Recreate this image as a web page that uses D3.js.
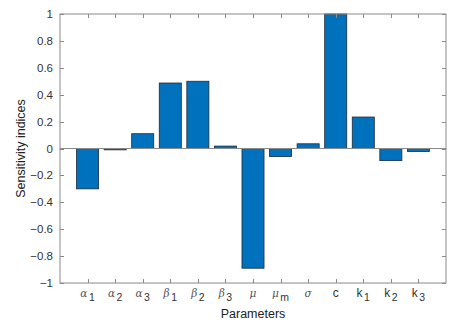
<!DOCTYPE html>
<html><head><meta charset="utf-8">
<script src="https://cdn.jsdelivr.net/npm/d3@7"></script>
<style>body{margin:0;background:#fff}svg{display:block}text{font-family:"Liberation Sans",Arial,sans-serif}</style>
</head><body><svg id="c" width="463" height="322"></svg>
<script>
const categories = [
  {base:"α", sub:"1", greek:true}, {base:"α", sub:"2", greek:true}, {base:"α", sub:"3", greek:true},
  {base:"β", sub:"1", greek:true}, {base:"β", sub:"2", greek:true}, {base:"β", sub:"3", greek:true},
  {base:"μ", sub:"", greek:true}, {base:"μ", sub:"m", greek:true}, {base:"σ", sub:"", greek:true},
  {base:"c", sub:"", greek:false}, {base:"k", sub:"1", greek:false}, {base:"k", sub:"2", greek:false}, {base:"k", sub:"3", greek:false}
];
const values = [-0.30, -0.01, 0.11, 0.487, 0.50, 0.018, -0.89, -0.06, 0.035, 1.0, 0.234, -0.09, -0.022];
const yTicks = [-1, -0.8, -0.6, -0.4, -0.2, 0, 0.2, 0.4, 0.6, 0.8, 1];
const yLabel = "Sensitivity indices";
const xLabel = "Parameters";

const svg = d3.select("#c");
const L = 60, R = 446, T = 14, B = 283;
const x = d3.scaleLinear().domain([0, categories.length + 1]).range([L, R]);
const y = d3.scaleLinear().domain([-1, 1]).range([B, T]);
const step = x(1) - x(0);
const bw = step * 0.8;
const axisCol = "#8a8a8a", textCol = "#333";

// bars
svg.append("g").selectAll("rect").data(values).join("rect")
  .attr("x", (d, i) => x(i + 1) - bw / 2)
  .attr("y", d => y(Math.max(0, d)))
  .attr("width", bw)
  .attr("height", d => Math.abs(y(d) - y(0)))
  .attr("fill", "#0072BD").attr("stroke", "#1b2a3a").attr("stroke-width", 0.8);

// zero baseline
svg.append("line").attr("x1", L).attr("x2", R).attr("y1", y(0)).attr("y2", y(0))
  .attr("stroke", axisCol).attr("stroke-width", 1);

// box
svg.append("rect").attr("x", L).attr("y", T).attr("width", R - L).attr("height", B - T)
  .attr("fill", "none").attr("stroke", axisCol).attr("stroke-width", 1);

// y ticks (inward both sides)
const gy = svg.append("g");
yTicks.forEach(t => {
  const yy = Math.round(y(t)) + 0.5;
  gy.append("line").attr("x1", L).attr("x2", L + 4).attr("y1", yy).attr("y2", yy).attr("stroke", axisCol);
  gy.append("line").attr("x1", R - 4).attr("x2", R).attr("y1", yy).attr("y2", yy).attr("stroke", axisCol);
  gy.append("text").attr("x", L - 7).attr("y", y(t)).attr("dy", "0.35em").attr("text-anchor", "end")
    .attr("font-size", 11.5).attr("fill", textCol).text(d3.format("")(t));
});

// x ticks
const gx = svg.append("g");
categories.forEach((c, i) => {
  const xx = Math.round(x(i + 1)) + 0.5;
  gx.append("line").attr("x1", xx).attr("x2", xx).attr("y1", B).attr("y2", B - 4).attr("stroke", axisCol);
  gx.append("line").attr("x1", xx).attr("x2", xx).attr("y1", T).attr("y2", T + 4).attr("stroke", axisCol);
  const t = gx.append("text").attr("x", x(i + 1)).attr("y", 297).attr("text-anchor", "middle")
    .attr("font-size", 12).attr("fill", textCol);
  const b = t.append("tspan").text(c.base);
  if (c.greek) b.attr("font-family", "'DejaVu Serif', serif").attr("font-style", "italic").attr("font-size", 10.5).attr("fill", "#555");
  if (c.sub) t.append("tspan").attr("dx", 1.5).attr("dy", 4).attr("font-size", 10.5).text(c.sub);
});

// axis labels
svg.append("text").attr("x", (L + R) / 2).attr("y", 318).attr("text-anchor", "middle")
  .attr("font-size", 12.5).attr("fill", "#222").text(xLabel);
svg.append("text").attr("transform", `translate(25,${(T + B) / 2}) rotate(-90)`).attr("text-anchor", "middle")
  .attr("font-size", 12.5).attr("fill", "#222").text(yLabel);
</script></body></html>
